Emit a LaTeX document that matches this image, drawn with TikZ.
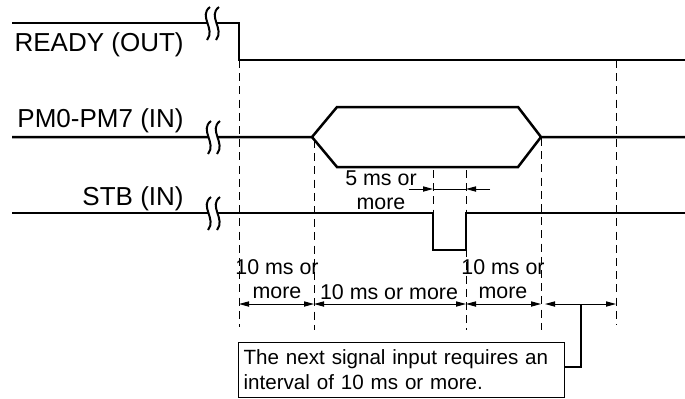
\documentclass[tikz,border=0pt]{standalone}
\usepackage{fontspec}
\setmainfont{Liberation Sans}
\usetikzlibrary{arrows.meta}

% break mark on a signal line: two wavy strokes with a gap between them
\newcommand{\sigbreak}[2]{%
	\fill[white] (#1+3,#2-16) .. controls (#1-9,#2-7) and (#1+9,#2+6) .. (#1,#2+17) -- (#1+9,#2+17) .. controls (#1+18,#2+6) and (#1,#2-7) .. (#1+12,#2-16) -- cycle;
	\draw[line width=1pt] (#1+3,#2-16) .. controls (#1-9,#2-7) and (#1+9,#2+6) .. (#1,#2+17);
	\draw[line width=1pt] (#1+12,#2-16) .. controls (#1,#2-7) and (#1+18,#2+6) .. (#1+9,#2+17);
}

\begin{document}
\begin{tikzpicture}[x=0.5pt, y=-0.5pt, every node/.style={font=\fontsize{10.7}{12}\selectfont, inner sep=0pt},
	sig/.style={line width=1.25pt, line join=miter},
	guide/.style={line width=0.5pt, dash pattern=on 4pt off 2.6pt},
	dim/.style={line width=0.5pt, {Triangle[length=5pt,width=2.6pt]}-{Triangle[length=5pt,width=2.6pt]}},
	onedim/.style={line width=0.5pt, -{Triangle[length=5pt,width=2.6pt]}},
	signame/.style={anchor=east, font=\fontsize{13}{15}\selectfont}]
	\useasboundingbox (0,0) rectangle (685,398);
	% signal names
	\node[signame] (ready) at (184,45) {READY (OUT)};
	\node[signame] (pm) at (184,121) {PM0-PM7 (IN)};
	\node[signame] (stb) at (184,199) {STB (IN)};
	% guide lines
	\draw[guide] (239,60) -- (239,327);
	\draw[guide] (314,140) -- (314,330);
	\draw[guide] (433,170) -- (433,213);
	\draw[guide] (466,170) -- (466,330);
	\draw[guide] (541,138) -- (541,330);
	\draw[guide] (616,60) -- (616,325);
	% signals
	\draw[sig] (12,23) -- (239,23) -- (239,60) -- (685,60);
	\draw[sig] (12,137) -- (312,137) -- (337,107) -- (518,107) -- (541,137) -- (685,137);
	\draw[sig] (312,137) -- (337,167) -- (518,167) -- (541,137);
	\draw[sig] (12,213) -- (433,213) -- (433,250) -- (466,250) -- (466,213) -- (685,213);
	\sigbreak{207}{23}
	\sigbreak{208}{137}
	\sigbreak{208}{213}
	% 5 ms pulse width
	\draw[onedim] (409,189) -- (433,189);
	\draw[onedim] (490,189) -- (466,189);
	\draw[line width=0.5pt] (433,189) -- (466,189);
	\node[align=center] (pulse) at (381,190) {5 ms or\\more};
	% intervals
	\draw[dim] (239,304) -- (314,304);
	\draw[dim] (314,304) -- (466,304);
	\draw[dim] (466,304) -- (541,304);
	\draw[dim] (545,304) -- (616,304);
	\node[align=center] (iv1) at (277,279) {10 ms or\\more};
	\node (iv2) at (389,292) {10 ms or more};
	\node[align=center] (iv3) at (503,279) {10 ms or\\more};
	% note
	\node[draw, line width=0.6pt, anchor=north west, minimum width=163pt, minimum height=27.5pt, align=left, text width=158pt, inner xsep=2.5pt, font=\fontsize{10.3}{12.5}\selectfont] (note) at (238,342) {The next signal input requires an\\interval of 10 ms or more.};
	\coordinate (nx) at (581,304);
	\draw[line width=0.6pt] (note.east |- 0,367) -| (nx);
\end{tikzpicture}
\end{document}
